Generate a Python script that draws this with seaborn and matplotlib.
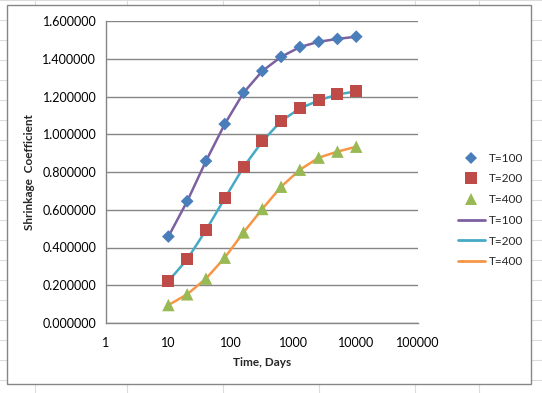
import matplotlib
matplotlib.use("Agg")
import matplotlib.pyplot as plt
import numpy as np
import pandas as pd
import seaborn as sns
from matplotlib.lines import Line2D
from matplotlib.patches import Rectangle
from matplotlib.ticker import FixedLocator, FuncFormatter, NullLocator

# time in days
days = [10, 20, 40, 80, 160, 320, 640, 1280, 2560, 5120, 10240]
# shrinkage coefficient per temperature
t100 = [0.458, 0.645, 0.858, 1.054, 1.220, 1.335, 1.410, 1.462, 1.490, 1.505, 1.517]
t200 = [0.222, 0.337, 0.492, 0.660, 0.826, 0.962, 1.070, 1.137, 1.179, 1.211, 1.227]
t400 = [0.095, 0.152, 0.235, 0.346, 0.480, 0.604, 0.722, 0.812, 0.876, 0.908, 0.934]
series_labels = ["T=100", "T=200", "T=400"]
x_ticks = [1, 10, 100, 1000, 10000, 100000]
y_ticks = [0.0, 0.2, 0.4, 0.6, 0.8, 1.0, 1.2, 1.4, 1.6]

marker_colors = ["#4A7EBB", "#BE4B48", "#98B954"]
marker_shapes = ["D", "s", "^"]
marker_sizes = [42, 75, 80]
line_colors = ["#7D60A0", "#46AAC5", "#F79646"]

df = pd.DataFrame({
    "days": days * 3,
    "value": t100 + t200 + t400,
    "series": np.repeat(series_labels, len(days)),
})

sns.set_style("white")
plt.rcParams["font.family"] = ["Lato", "DejaVu Sans"]

W, H = 542, 393
fig = plt.figure(figsize=(W / 100, H / 100), dpi=100)
fig.patch.set_facecolor("white")

# faint spreadsheet cells behind the chart
for yy in range(0, H, 20):
    fig.add_artist(Line2D([0, 1], [1 - yy / H] * 2, color="#dadcdd", lw=0.8, zorder=0))
for xx in [35, 127, 223, 319, 415, 479]:
    fig.add_artist(Line2D([xx / W] * 2, [0, 1], color="#dadcdd", lw=0.8, zorder=0))
fig.add_artist(Rectangle((7 / W, 1 - 384 / H), (531 - 7) / W, (384 - 5) / H,
                         facecolor="white", edgecolor="#868686", lw=1.0, zorder=1))

ax = fig.add_axes([106 / W, 1 - 323 / H, (418 - 106) / W, (323 - 21) / H], zorder=2)
ax.set_facecolor("none")

handles = []
for i, lab in enumerate(series_labels):
    sub = df[df["series"] == lab]
    sns.scatterplot(data=sub, x="days", y="value", ax=ax, marker=marker_shapes[i],
                    color=marker_colors[i], s=marker_sizes[i], edgecolor="none",
                    zorder=4, legend=False)
    handles.append(Line2D([], [], ls="none", marker=marker_shapes[i],
                          color=marker_colors[i], markersize=6 if i == 0 else 8,
                          markeredgewidth=0, label=lab))
for i, lab in enumerate(series_labels):
    sub = df[df["series"] == lab]
    sns.lineplot(data=sub, x="days", y="value", ax=ax, color=line_colors[i],
                 lw=1.8, zorder=3, legend=False)
    handles.append(Line2D([], [], color=line_colors[i], lw=2, label=lab))

ax.set_xscale("log")
ax.set_xlim(1, 100000)
ax.set_ylim(0, 1.6)
ax.xaxis.set_major_locator(FixedLocator(x_ticks))
ax.xaxis.set_minor_locator(NullLocator())
ax.xaxis.set_major_formatter(FuncFormatter(lambda v, p: f"{v:.0f}"))
ax.yaxis.set_major_locator(FixedLocator(y_ticks))
ax.yaxis.set_major_formatter(FuncFormatter(lambda v, p: f"{v:.6f}"))
ax.grid(axis="y", color="#868686", lw=1.0)
ax.set_axisbelow(True)
for s in ["top", "right"]:
    ax.spines[s].set_visible(False)
for s in ["left", "bottom"]:
    ax.spines[s].set_color("#868686")
    ax.spines[s].set_linewidth(1.0)
ax.tick_params(axis="both", direction="out", length=4, width=1.0, color="#868686",
               labelsize=9, labelcolor="black", pad=3)
ax.tick_params(axis="x", pad=6)

ax.set_xlabel("Time, Days", fontsize=8.5, fontweight="bold", labelpad=6)
ax.set_ylabel("Shrinkage  Coefficient", fontsize=8.5, fontweight="bold", labelpad=5)

fig.legend(handles=handles, labels=[h.get_label() for h in handles],
           loc="center left", bbox_to_anchor=(452 / W, 1 - 210 / H),
           frameon=False, fontsize=8.5, labelspacing=0.82, handlelength=2.3,
           handletextpad=0.3, borderpad=0)

fig.savefig("out.png", dpi=100, facecolor="white")
